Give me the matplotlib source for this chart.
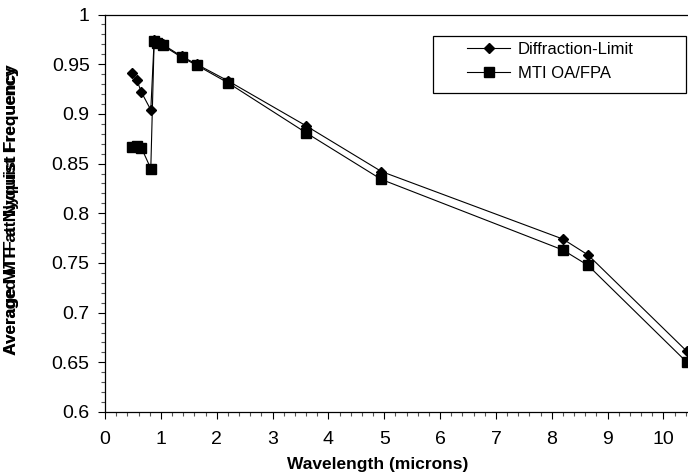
import numpy as np
import matplotlib
matplotlib.use('Agg')
import matplotlib.pyplot as plt
from matplotlib.patches import Rectangle
from matplotlib.ticker import MultipleLocator

plt.rcParams['font.family'] = ['Liberation Sans', 'DejaVu Sans']

# wavelength (microns) of each band
wavelength = [0.49, 0.57, 0.65, 0.82, 0.88, 0.94, 1.03, 1.37, 1.64, 2.21,
              3.6, 4.95, 8.2, 8.65, 10.42]
# average MTF values
mtf_diffraction = [0.941, 0.934, 0.922, 0.904, 0.974, 0.972, 0.970, 0.958,
                   0.950, 0.933, 0.888, 0.842, 0.774, 0.758, 0.661]
mtf_mti = [0.867, 0.868, 0.866, 0.845, 0.973, 0.971, 0.969, 0.957,
           0.949, 0.931, 0.881, 0.834, 0.763, 0.7475, 0.650]
series_names = ['Diffraction-Limit', 'MTI OA/FPA']

fig = plt.figure(figsize=(6.88, 4.76), dpi=100)
ax = fig.add_axes([105 / 688, 64 / 476, 592 / 688, 397.5 / 476])

l1, = ax.plot(wavelength, mtf_diffraction, color='black', lw=0.8,
              marker='D', markersize=5, clip_on=False, zorder=3)
l2, = ax.plot(wavelength, mtf_mti, color='black', lw=0.8,
              marker='s', markersize=7, clip_on=False, zorder=3)

ax.set_xlim(0, 10.6)
ax.set_ylim(0.6, 1.0)
ax.xaxis.set_major_locator(MultipleLocator(1))
ax.xaxis.set_minor_locator(MultipleLocator(0.2))
ax.yaxis.set_major_locator(MultipleLocator(0.05))
ax.yaxis.set_minor_locator(MultipleLocator(0.01))
ax.set_xticks(range(0, 11))
ax.set_xticklabels([str(i) for i in range(0, 11)])
ax.set_yticks([0.6, 0.65, 0.7, 0.75, 0.8, 0.85, 0.9, 0.95, 1.0])
ax.set_yticklabels(['0.6', '0.65', '0.7', '0.75', '0.8', '0.85', '0.9', '0.95', '1'])
ax.tick_params(which='major', direction='out', length=5, width=0.8,
               labelsize=14, pad=6)
ax.tick_params(which='minor', direction='out', length=3, width=0.8,
               color='#555555')
ax.tick_params(axis='x', which='major', pad=9)
for s in ax.spines.values():
    s.set_linewidth(0.9)

fig.text(378 / 688, 11 / 476, 'Wavelength (microns)', fontsize=12.5,
         fontweight='bold', ha='center', va='center')
# two overlapping axis titles, as in the original
fig.text(12 / 688, 266 / 476, 'Average MTF at Nyquist Frequency', fontsize=12.5,
         fontweight='bold', ha='center', va='center', rotation=90)
fig.text(12 / 688, 266 / 476, 'Averaged MTF at Nyquist Frequency', fontsize=12,
         fontweight='bold', ha='center', va='center', rotation=90)

# legend box
fig.patches.append(Rectangle((433 / 688, 383 / 476), 253 / 688, 57 / 476,
                             transform=fig.transFigure, fill=False,
                             edgecolor='black', lw=0.9))
fig.legend([l1, l2], series_names, loc='upper left',
           bbox_to_anchor=(467 / 688, 434 / 476), frameon=False,
           fontsize=12, handlelength=2.6, handletextpad=0.45,
           borderpad=0, borderaxespad=0, labelspacing=0.55)

fig.savefig('out.png', dpi=100)
